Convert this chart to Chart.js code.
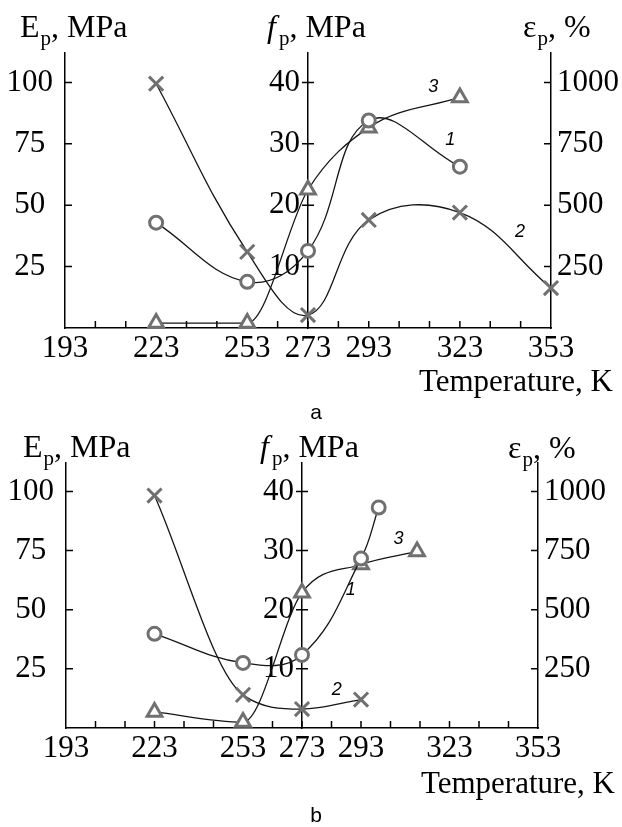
<!DOCTYPE html>
<html>
<head>
<meta charset="utf-8">
<script src="https://cdn.jsdelivr.net/npm/chart.js@4.4.1/dist/chart.umd.min.js"></script>
<style>
  html, body { margin: 0; padding: 0; background: #fff; }
  body { width: 622px; height: 827px; position: relative; overflow: hidden; }
  canvas { position: absolute; left: 0; }
  #chartA { top: 0; }
  #chartB { top: 415px; }
</style>
</head>
<body>
<canvas id="chartA" width="622" height="432"></canvas>
<canvas id="chartB" width="622" height="412"></canvas>
<script>
// axes
const tMin = 193, tMax = 353;
const xLabels = [193, 223, 253, 273, 293, 323, 353];
const xMarks = [203, 213, 223, 233, 243, 253, 263, 273, 283, 293, 303, 313, 323, 333, 343];
const eMax = 112, fMax = 44.8, epsMax = 1120;
const eTicks = [25, 50, 75, 100];
const fTicks = [10, 20, 30, 40];
const epsTicks = [250, 500, 750, 1000];

// panel a
const tempA1 = [223, 253, 273, 293, 323];
const eA = [42.9, 18.8, 31.4, 84.5, 65.7];
const tempA2 = [223, 253, 273, 293, 323, 353];
const fA = [39.8, 12.4, 2.1, 17.6, 18.8, 6.5];
const tempA3 = [223, 253, 273, 293, 323];
const epsA = [20, 20, 563, 816, 939];

// panel b
const tempB1 = [223, 253, 273, 293, 299];
const eB = [39.8, 27.5, 30.9, 71.6, 93.2];
const tempB2 = [223, 253, 273, 293];
const fB = [39.3, 5.6, 3.2, 4.8];
const tempB3 = [223, 253, 273, 293, 312];
const epsB = [68, 25, 572, 691, 746];

const SERIF = '"Liberation Serif", "Times New Roman", serif';
const SANS = '"Liberation Sans", Arial, sans-serif';
const MARK = '#707070';
const LINE = '#151515';
const tickFont = { family: SERIF, size: 31 };

function serie(temps, vals, axis, style, mode) {
  return {
    data: temps.map((t, i) => ({ x: t, y: vals[i] })),
    yAxisID: axis,
    borderColor: LINE,
    borderWidth: 1.3,
    tension: 0.4,
    cubicInterpolationMode: mode || 'default',
    pointStyle: style,
    pointRadius: style === 'circle' ? 6.5 : (style === 'crossRot' ? 10 : 8.5),
    pointBorderWidth: 3,
    pointBorderColor: MARK,
    pointBackgroundColor: style === 'crossRot' ? MARK : '#fff',
    clip: false
  };
}

// titulo de eje con subindice p
function axisTitle(ctx, x, y, main, rest, italic) {
  ctx.textAlign = 'left';
  ctx.textBaseline = 'alphabetic';
  ctx.font = (italic ? 'italic ' : '') + '32px ' + SERIF;
  ctx.fillText(main, x, y);
  x += ctx.measureText(main).width + (italic ? 3 : 1);
  ctx.font = '21px ' + SERIF;
  ctx.fillText('p', x, y + 8);
  x += ctx.measureText('p').width;
  ctx.font = '32px ' + SERIF;
  ctx.fillText(rest, x, y);
}

const panelDeco = {
  id: 'panelDeco',
  beforeDatasetsDraw(chart, args, o) {
    const ctx = chart.ctx;
    const { x, yE, yF, yEps } = chart.scales;
    const area = chart.chartArea;
    const mx = x.getPixelForValue(273);
    ctx.save();
    ctx.strokeStyle = '#000';
    ctx.lineWidth = 1.5;
    ctx.beginPath();
    xMarks.forEach(v => {
      const px = x.getPixelForValue(v);
      ctx.moveTo(px, area.bottom); ctx.lineTo(px, area.bottom - 7);
    });
    yE.ticks.forEach(t => {
      const py = yE.getPixelForValue(t.value);
      ctx.moveTo(area.left, py); ctx.lineTo(area.left + 7, py);
    });
    yEps.ticks.forEach(t => {
      const py = yEps.getPixelForValue(t.value);
      ctx.moveTo(area.right, py); ctx.lineTo(area.right - 7, py);
    });
    yF.ticks.forEach(t => {
      const py = yF.getPixelForValue(t.value);
      ctx.moveTo(mx - 6, py); ctx.lineTo(mx + 6, py);
    });
    ctx.stroke();
    ctx.fillStyle = '#000';
    ctx.font = '31px ' + SERIF;
    ctx.textAlign = 'right';
    ctx.textBaseline = 'middle';
    yF.ticks.forEach(t => ctx.fillText(String(t.value), mx - 8, yF.getPixelForValue(t.value)));
    ctx.restore();
  },
  afterDraw(chart, args, o) {
    const ctx = chart.ctx;
    const { x, yE } = chart.scales;
    ctx.save();
    ctx.fillStyle = '#000';
    axisTitle(ctx, o.eTitle[0], o.eTitle[1], 'E', ', MPa', false);
    axisTitle(ctx, o.fTitle[0], o.fTitle[1], 'f', ', MPa', true);
    axisTitle(ctx, o.epsTitle[0], o.epsTitle[1], 'ε', ', %', false);
    ctx.font = '31px ' + SERIF;
    ctx.textAlign = 'right';
    ctx.fillText('Temperature, K', o.xTitle[0], o.xTitle[1]);
    // numeros de curva
    ctx.font = 'italic 18px ' + SANS;
    ctx.textAlign = 'center';
    ctx.textBaseline = 'middle';
    o.curveLabels.forEach(c => ctx.fillText(c.text, x.getPixelForValue(c.t), yE.getPixelForValue(c.e)));
    ctx.font = '21px ' + SANS;
    ctx.textBaseline = 'alphabetic';
    ctx.fillText(o.letter[0], o.letter[1], o.letter[2]);
    ctx.restore();
  }
};

function buildPanel(id, sets, geo) {
  const axisBorder = { color: '#000', width: 1.5 };
  const noGrid = { display: false, drawTicks: false };
  return new Chart(document.getElementById(id), {
    type: 'line',
    data: { datasets: sets },
    options: {
      responsive: false,
      animation: false,
      layout: { padding: { top: geo.top, left: 0, right: 0, bottom: 0 } },
      plugins: {
        legend: { display: false },
        tooltip: { enabled: false },
        panelDeco: geo.deco
      },
      scales: {
        x: {
          type: 'linear', position: 'bottom', min: tMin, max: tMax,
          afterBuildTicks: s => { s.ticks = xLabels.map(v => ({ value: v })); },
          afterFit: s => { s.height = geo.height - geo.bottom; },
          grid: noGrid, border: axisBorder,
          ticks: { autoSkip: false, maxRotation: 0, padding: 2, color: '#000', font: tickFont, callback: v => String(v) }
        },
        yE: {
          axis: 'y', type: 'linear', position: 'left', min: 0, max: eMax,
          afterBuildTicks: s => { s.ticks = eTicks.map(v => ({ value: v })); },
          afterFit: s => { s.width = geo.left; },
          grid: noGrid, border: axisBorder,
          ticks: { crossAlign: 'center', padding: 12, color: '#000', font: tickFont, callback: v => String(v) }
        },
        yF: {
          axis: 'y', type: 'linear', position: { x: 273 }, min: 0, max: fMax,
          afterBuildTicks: s => { s.ticks = fTicks.map(v => ({ value: v })); },
          grid: noGrid, border: axisBorder,
          ticks: { display: false }
        },
        yEps: {
          axis: 'y', type: 'linear', position: 'right', min: 0, max: epsMax,
          afterBuildTicks: s => { s.ticks = epsTicks.map(v => ({ value: v })); },
          afterFit: s => { s.width = 622 - geo.right; },
          grid: noGrid, border: axisBorder,
          ticks: { padding: 6, color: '#000', font: tickFont, callback: v => String(v) }
        }
      }
    },
    plugins: [panelDeco]
  });
}

buildPanel('chartA', [
  serie(tempA1, eA, 'yE', 'circle'),
  serie(tempA2, fA, 'yF', 'crossRot'),
  serie(tempA3, epsA, 'yEps', 'triangle', 'monotone')
], {
  top: 53, bottom: 328, left: 65, right: 551, height: 432,
  deco: {
    eTitle: [20, 37], fTitle: [267, 37], epsTitle: [523, 37],
    xTitle: [613, 391], letter: ['a', 316, 419],
    curveLabels: [
      { text: '1', t: 319.8, e: 76.7 },
      { text: '2', t: 342.8, e: 39.2 },
      { text: '3', t: 314.2, e: 98 }
    ]
  }
});

buildPanel('chartB', [
  serie(tempB1, eB, 'yE', 'circle'),
  serie(tempB2, fB, 'yF', 'crossRot', 'monotone'),
  serie(tempB3, epsB, 'yEps', 'triangle', 'monotone')
], {
  top: 48, bottom: 313, left: 66, right: 538, height: 412,
  deco: {
    eTitle: [23, 42], fTitle: [260, 42], epsTitle: [508, 43],
    xTitle: [615, 378], letter: ['b', 316, 407],
    curveLabels: [
      { text: '1', t: 289.5, e: 58.5 },
      { text: '2', t: 284.8, e: 16.1 },
      { text: '3', t: 305.7, e: 80 }
    ]
  }
});
</script>
</body>
</html>
